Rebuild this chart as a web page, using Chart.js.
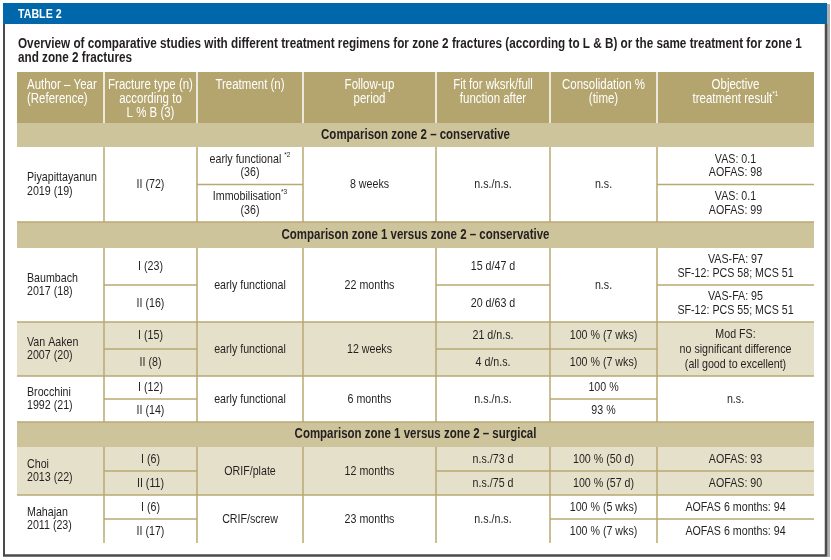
<!DOCTYPE html>
<html>
<head>
<meta charset="utf-8">
<script src="https://cdn.jsdelivr.net/npm/chart.js@4.4.1/dist/chart.umd.min.js"></script>
<style>
  html, body { margin: 0; padding: 0; background: #fff; }
  #wrap { width: 831px; height: 560px; }
</style>
</head>
<body>
<div id="wrap"><canvas id="tableChart"></canvas></div>
<script>
// ---- table content ----
const tableLabel = 'TABLE 2';
const titleLines = [
  'Overview of comparative studies with different treatment regimens for zone 2 fractures (according to L & B) or the same treatment for zone 1',
  'and zone 2 fractures'
];
const columnHeaders = [
  'Author – Year\n(Reference)',
  'Fracture type (n)\naccording to\nL % B (3)',
  'Treatment (n)',
  'Follow-up\nperiod',
  'Fit for wksrk/full\nfunction after',
  'Consolidation %\n(time)',
  'Objective\ntreatment result^*1'
];
const sectionTitles = [
  'Comparison zone 2 – conservative',
  'Comparison zone 1 versus zone 2 – conservative',
  'Comparison zone 1 versus zone 2 – surgical'
];
// a string fills the whole row, a pair is split in two sub-rows
const authors = ['Piyapittayanun\n2019 (19)', 'Baumbach\n2017 (18)', 'Van Aaken\n2007 (20)', 'Brocchini\n1992 (21)', 'Choi\n2013 (22)', 'Mahajan\n2011 (23)'];
const fractureTypes = ['II (72)', ['I (23)', 'II (16)'], ['I (15)', 'II (8)'], ['I (12)', 'II (14)'], ['I (6)', 'II (11)'], ['I (6)', 'II (17)']];
const treatments = [['early functional ^*2\n(36)', 'Immobilisation^*3\n(36)'], 'early functional', 'early functional', 'early functional', 'ORIF/plate', 'CRIF/screw'];
const followUps = ['8 weeks', '22 months', '12 weeks', '6 months', '12 months', '23 months'];
const fitForWork = ['n.s./n.s.', ['15 d/47 d', '20 d/63 d'], ['21 d/n.s.', '4 d/n.s.'], 'n.s./n.s.', ['n.s./73 d', 'n.s./75 d'], 'n.s./n.s.'];
const consolidation = ['n.s.', 'n.s.', ['100 % (7 wks)', '100 % (7 wks)'], ['100 %', '93 %'], ['100 % (50 d)', '100 % (57 d)'], ['100 % (5 wks)', '100 % (7 wks)']];
const outcomes = [
  ['VAS: 0.1\nAOFAS: 98', 'VAS: 0.1\nAOFAS: 99'],
  ['VAS-FA: 97\nSF-12: PCS 58; MCS 51', 'VAS-FA: 95\nSF-12: PCS 55; MCS 51'],
  'Mod FS:\nno significant difference\n(all good to excellent)',
  'n.s.',
  ['AOFAS: 93', 'AOFAS: 90'],
  ['AOFAS 6 months: 94', 'AOFAS 6 months: 94']
];

// ---- layout (in canvas units, mapped through the chart scales) ----
const colEdges = [17, 104, 197, 303, 436, 550, 657, 814];
const headerBand = [72, 123];
const sectionBands = [[123, 147], [222, 248], [422, 447]];
const studyBands = [[147, 222], [248, 322], [322, 376], [376, 422], [447, 495], [495, 543]];
const shadedStudies = [2, 4];

const BLUE = '#0068aa';
const HEAD = '#b4a56f';
const SECTION = '#cdc49b';
const SHADE = '#e5e0c9';
const LINE = '#b8a872';
const INK = '#231f20';
const CELL_SIZE = 13;

// pick a condensed face if one is installed, else squeeze Liberation Sans
function hasFont(name) {
  const c = document.createElement('canvas').getContext('2d');
  c.font = '40px monospace';
  const w1 = c.measureText('abcdefghijklmnopqrstuvwxyz').width;
  c.font = `40px "${name}", monospace`;
  return c.measureText('abcdefghijklmnopqrstuvwxyz').width !== w1;
}
const narrowFace = hasFont('Liberation Sans Narrow') ? 'Liberation Sans Narrow' : (hasFont('Arial Narrow') ? 'Arial Narrow' : null);
const FACE = narrowFace ? `"${narrowFace}"` : '"Liberation Sans", Arial, sans-serif';
const SQUEEZE = narrowFace ? 1 : 0.82;

const tablePlugin = {
  id: 'tablePlugin',
  afterDraw(chart) {
    const ctx = chart.ctx;
    const xs = chart.scales.x, ys = chart.scales.y;
    const X = v => xs.getPixelForValue(v);
    const Y = v => ys.getPixelForValue(v);
    const left = X(colEdges[0]), right = X(colEdges[colEdges.length - 1]);

    function textRun(str, x, y, align, size, weight, color) {
      // supports one superscript part after '^'
      const [base, sup] = str.split('^');
      ctx.save();
      ctx.fillStyle = color;
      ctx.textBaseline = 'middle';
      ctx.font = `${weight} ${size}px ${FACE}`;
      const wb = ctx.measureText(base).width * SQUEEZE;
      let ws = 0;
      const supSize = Math.round(size * 0.6);
      if (sup) {
        ctx.font = `${weight} ${supSize}px ${FACE}`;
        ws = ctx.measureText(sup).width * SQUEEZE;
      }
      const total = wb + ws;
      let x0 = align === 'left' ? x : x - total / 2;
      ctx.translate(x0, y);
      ctx.scale(SQUEEZE, 1);
      ctx.textAlign = 'left';
      ctx.font = `${weight} ${size}px ${FACE}`;
      ctx.fillText(base, 0, 0);
      if (sup) {
        ctx.font = `${weight} ${supSize}px ${FACE}`;
        ctx.fillText(sup, wb / SQUEEZE, -size * 0.35);
      }
      ctx.restore();
    }
    function block(str, x, yc, align, size, weight, color, lh) {
      const lines = str.split('\n');
      const top = yc - (lines.length - 1) * lh / 2;
      lines.forEach((ln, i) => textRun(ln, x, top + i * lh, align, size, weight, color));
    }
    function line(x1, y1, x2, y2, color, w) {
      ctx.save();
      ctx.strokeStyle = color;
      ctx.lineWidth = w;
      ctx.beginPath();
      ctx.moveTo(x1, y1);
      ctx.lineTo(x2, y2);
      ctx.stroke();
      ctx.restore();
    }

    // frame and label bar
    ctx.fillStyle = BLUE;
    ctx.fillRect(X(3), Y(3), X(827) - X(3), Y(24) - Y(3));
    ctx.fillStyle = '#b0b0b0';
    ctx.fillRect(X(827), Y(4), X(830) - X(827), Y(557) - Y(4));
    line(X(4), Y(24), X(4), Y(556), '#4a4a4a', 2);
    line(X(826), Y(24), X(826), Y(556), '#4a4a4a', 2.5);
    line(X(3), Y(555.5), X(827), Y(555.5), '#4a4a4a', 2.5);
    textRun(tableLabel, X(18), Y(14), 'left', 13, 'bold', '#ffffff');

    // title
    titleLines.forEach((t, i) => textRun(t, X(18), Y(44 + i * 14), 'left', 14.3, 'bold', INK));

    // backgrounds
    ctx.fillStyle = HEAD;
    ctx.fillRect(left, Y(headerBand[0]), right - left, Y(headerBand[1]) - Y(headerBand[0]));
    ctx.fillStyle = SECTION;
    sectionBands.forEach(b => ctx.fillRect(left, Y(b[0]), right - left, Y(b[1]) - Y(b[0])));
    ctx.fillStyle = SHADE;
    shadedStudies.forEach(i => {
      const b = studyBands[i];
      ctx.fillRect(left, Y(b[0]), right - left, Y(b[1]) - Y(b[0]));
    });

    // header separators and text
    for (let c = 1; c < colEdges.length - 1; c++) {
      line(X(colEdges[c]), Y(headerBand[0]), X(colEdges[c]), Y(headerBand[1]), '#ffffff', 1.5);
    }
    columnHeaders.forEach((h, c) => {
      const lines = h.split('\n');
      lines.forEach((ln, i) => {
        if (c === 0) textRun(ln, X(colEdges[0] + 10), Y(85 + i * 14), 'left', 14, 'normal', '#ffffff');
        else textRun(ln, X((colEdges[c] + colEdges[c + 1]) / 2), Y(85 + i * 14), 'center', 14, 'normal', '#ffffff');
      });
    });

    // section titles
    sectionBands.forEach((b, i) => {
      textRun(sectionTitles[i], (left + right) / 2, Y((b[0] + b[1]) / 2), 'center', 14, 'bold', INK);
    });

    // study rows
    const columns = [authors, fractureTypes, treatments, followUps, fitForWork, consolidation, outcomes];
    studyBands.forEach((b, r) => {
      const top = b[0], bot = b[1], mid = (top + bot) / 2;
      // row borders and column rules
      if (r !== studyBands.length - 1) line(left, Y(bot), right, Y(bot), LINE, 1.5);
      for (let c = 1; c < colEdges.length - 1; c++) {
        line(X(colEdges[c]), Y(top), X(colEdges[c]), Y(bot), LINE, 1.5);
      }
      columns.forEach((col, c) => {
        const v = col[r];
        const x0 = colEdges[c], x1 = colEdges[c + 1];
        const cx = c === 0 ? X(x0 + 10) : X((x0 + x1) / 2);
        const align = c === 0 ? 'left' : 'center';
        if (Array.isArray(v)) {
          line(X(x0), Y(mid), X(x1), Y(mid), LINE, 1.5);
          block(v[0], cx, Y((top + mid) / 2), align, CELL_SIZE, 'normal', INK, 13.5);
          block(v[1], cx, Y((mid + bot) / 2), align, CELL_SIZE, 'normal', INK, 13.5);
        } else {
          block(v, cx, Y(mid), align, CELL_SIZE, 'normal', INK, c === 6 ? 15 : 13.5);
        }
      });
    });
  }
};

new Chart(document.getElementById('tableChart'), {
  type: 'scatter',
  data: { datasets: [{ data: [], pointRadius: 0 }] },
  options: {
    responsive: true,
    maintainAspectRatio: false,
    animation: false,
    layout: { padding: 0 },
    plugins: { legend: { display: false }, tooltip: { enabled: false } },
    scales: {
      x: { type: 'linear', min: 0, max: 831, display: false },
      y: { type: 'linear', min: 0, max: 560, reverse: true, display: false }
    }
  },
  plugins: [tablePlugin]
});
</script>
</body>
</html>
